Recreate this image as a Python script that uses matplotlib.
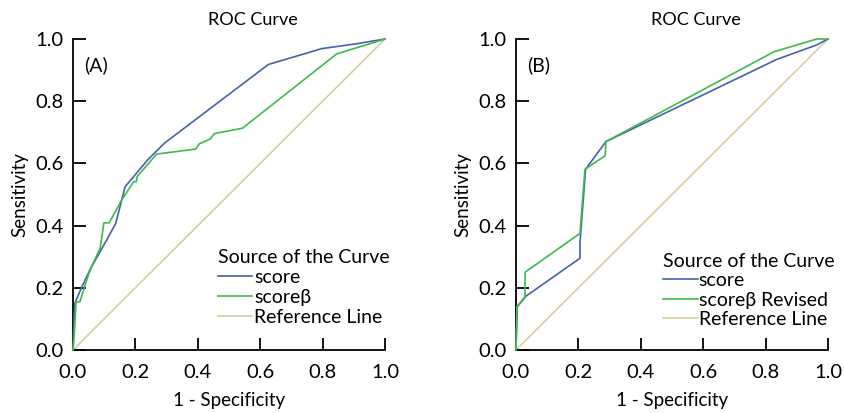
import matplotlib
matplotlib.use("Agg")
import matplotlib.pyplot as plt

plt.rcParams['font.family'] = ['Lato', 'DejaVu Sans']

# Panel A data
a_score_x = [0.0, 0.002, 0.006, 0.012, 0.028, 0.057, 0.108, 0.137, 0.167, 0.199, 0.240, 0.293, 0.626, 0.797, 0.904, 1.0]
a_score_y = [0.0, 0.06, 0.15, 0.165, 0.202, 0.263, 0.354, 0.407, 0.525, 0.563, 0.612, 0.665, 0.918, 0.969, 0.984, 1.0]
a_beta_x = [0.0, 0.004, 0.010, 0.022, 0.044, 0.057, 0.087, 0.099, 0.116, 0.156, 0.194, 0.203, 0.206, 0.268, 0.393, 0.405, 0.439, 0.453, 0.543, 0.845, 1.0]
a_beta_y = [0.0, 0.05, 0.155, 0.155, 0.225, 0.263, 0.327, 0.409, 0.409, 0.482, 0.541, 0.541, 0.558, 0.630, 0.646, 0.663, 0.678, 0.696, 0.713, 0.952, 1.0]

# Panel B data
b_score_x = [0.0, 0.004, 0.029, 0.205, 0.205, 0.223, 0.288, 0.835, 0.964, 1.0]
b_score_y = [0.0, 0.139, 0.171, 0.295, 0.343, 0.581, 0.670, 0.934, 0.981, 1.0]
b_beta_x = [0.0, 0.003, 0.029, 0.029, 0.205, 0.221, 0.286, 0.288, 0.827, 0.964, 1.0]
b_beta_y = [0.0, 0.139, 0.168, 0.250, 0.375, 0.581, 0.625, 0.670, 0.959, 1.0, 1.0]

ref_x = [0.0, 1.0]
ref_y = [0.0, 1.0]

ticks = [0.0, 0.2, 0.4, 0.6, 0.8, 1.0]
tick_labels = ["0.0", "0.2", "0.4", "0.6", "0.8", "1.0"]

BLUE = "#4760b0"
GREEN = "#3dbb4a"
REF = "#d8cd9c"

fig = plt.figure(figsize=(8.45, 4.13), dpi=100)
axA = fig.add_axes([73/845, 1-350/413, 312/845, 311/413])
axB = fig.add_axes([516/845, 1-350/413, 312/845, 311/413])

def style(ax, panel, series, labels, leg_anchor, handlelength, textpad, spacing):
    (x1, y1), (x2, y2) = series
    l1, = ax.plot(x1, y1, color=BLUE, lw=1.2, clip_on=False, zorder=3)
    l2, = ax.plot(x2, y2, color=GREEN, lw=1.2, clip_on=False, zorder=4)
    l3, = ax.plot(ref_x, ref_y, color=REF, lw=1.2, clip_on=False, zorder=2)
    ax.set_xlim(0, 1)
    ax.set_ylim(0, 1)
    for s in ["top", "right"]:
        ax.spines[s].set_visible(False)
    for s in ["left", "bottom"]:
        ax.spines[s].set_linewidth(1.3)
    ax.set_xticks(ticks)
    ax.set_xticklabels(tick_labels)
    ax.set_yticks(ticks)
    ax.set_yticklabels(tick_labels)
    ax.tick_params(direction="in", length=9, width=1.3, labelsize=14.5)
    ax.tick_params(axis="x", pad=10)
    ax.tick_params(axis="y", pad=7)
    ax.set_xlabel("1 - Specificity", fontsize=13.5, labelpad=8)
    ax.set_ylabel("Sensitivity", fontsize=13.5, labelpad=5)
    ax.set_title("ROC Curve", fontsize=13, x=0.575, pad=10)
    ax.text(0.035, 0.915, panel, transform=ax.transAxes, fontsize=14, va="center", ha="left")
    leg = ax.legend([l1, l2, l3], labels, title="Source of the Curve",
                    loc="upper left", bbox_to_anchor=leg_anchor, frameon=False,
                    fontsize=14, title_fontsize=14, handlelength=handlelength,
                    handletextpad=textpad, labelspacing=spacing, borderpad=0, borderaxespad=0,
                    alignment="left")
    return leg

style(axA, "(A)", [(a_score_x, a_score_y), (a_beta_x, a_beta_y)],
      ["score", "scoreβ", "Reference Line"], (0.465, 0.325), 1.75, 0.12, 0.16)
style(axB, "(B)", [(b_score_x, b_score_y), (b_beta_x, b_beta_y)],
      ["score", "scoreβ Revised", "Reference Line"], (0.47, 0.313), 1.8, 0.05, 0.13)

fig.savefig("out.png", dpi=100)
